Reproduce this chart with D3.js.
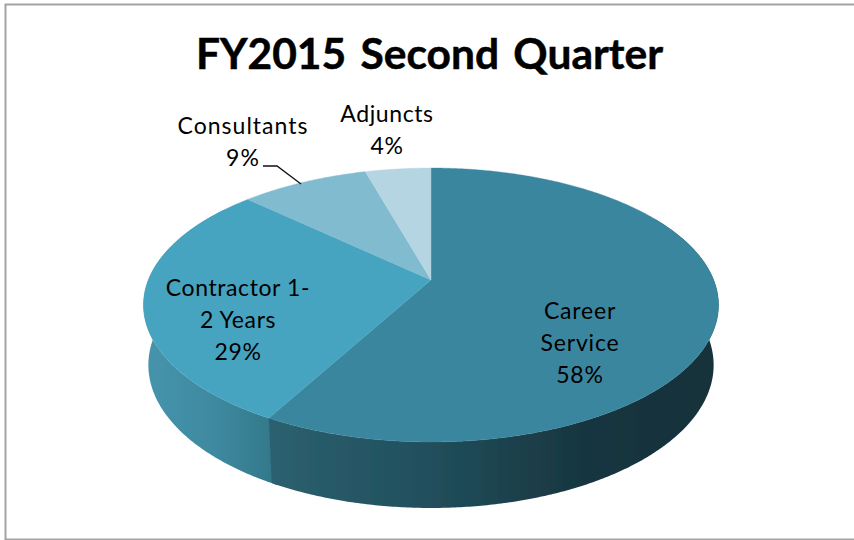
<!DOCTYPE html>
<html>
<head>
<meta charset="utf-8">
<script src="https://cdn.jsdelivr.net/npm/d3@7"></script>
<style>
html,body{margin:0;padding:0;background:#fff;overflow:hidden}
svg{display:block}
text{font-family:Lato,"Noto Sans",sans-serif;fill:#000}
</style>
</head>
<body>
<svg id="c" width="854" height="540"></svg>
<script>
const categories = ["Career Service", "Contractor 1-2 Years", "Consultants", "Adjuncts"];
const values = [58, 29, 8.6, 4.4];
const labelLines = [["Career", "Service", "58%"], ["Contractor 1-", "2 Years", "29%"], ["Consultants", "9%"], ["Adjuncts", "4%"]];
const titleText = "FY2015 Second Quarter";
const topColors = ["#3a869f", "#46a4c0", "#80bbd0", "#b6d5e3"];

const svg = d3.select("#c");
const defs = svg.append("defs");
defs.append("filter").attr("id", "soft").append("feGaussianBlur").attr("stdDeviation", 0.45);
function grad(id, stops, x1, x2) {
  const g = defs.append("linearGradient").attr("id", id).attr("gradientUnits", "userSpaceOnUse")
    .attr("x1", x1).attr("x2", x2).attr("y1", 0).attr("y2", 0);
  stops.forEach(s => g.append("stop").attr("offset", s[0]).attr("stop-color", s[1]));
}
grad("sideCareer", [[0, "#2b606f"], [0.35, "#214f5c"], [0.7, "#183640"], [1, "#15303a"]], 272, 714);
grad("sideContractor", [[0, "#4594ac"], [0.55, "#3e899f"], [1, "#33788b"]], 148, 272);

// border
svg.append("path").attr("stroke", "#a3a3a3").attr("stroke-width", 2).attr("fill", "none")
  .attr("d", d3.line()([[854, 4.5], [5.5, 4.5], [5.5, 539.5], [854, 539.5]]));

// disc -> screen perspective mapping
const k = 0.1825;
const sx = d3.scaleLinear().domain([-1, 1]).range([431 - 282.7, 431 + 282.7]);
const sy = d3.scaleLinear().domain([-1, 1]).range([280 - 132.4, 280 + 132.4]);
function topPt(t) {
  const X = Math.sin(t), Y = -Math.cos(t), w = 1 - k * Y;
  return [sx(X / w), sy(Y / w)];
}
function botPt(t) {
  const p = topPt(t);
  return [431 + (p[0] - 431) * 0.983, 365 + (p[1] - 305) * 1.044];
}
const arcs = d3.pie().sort(null).value(d => d)(values);
const step = Math.PI / 360;
const samples = (a, b) => d3.range(a, b, step).concat([b]);
const line = d3.line();

const pie = svg.append("g").attr("filter", "url(#soft)");
// sides: contractor first, career overlaps the seam
const boundary = arcs[0].endAngle;
const sides = [
  { a: boundary - 0.02, b: Math.PI * 1.7, fill: "url(#sideContractor)" },
  { a: Math.PI / 3, b: boundary, fill: "url(#sideCareer)" }
];
pie.selectAll("path.side").data(sides).join("path").attr("class", "side")
  .attr("fill", d => d.fill)
  .attr("d", d => {
    const s = samples(d.a, d.b);
    return line(s.map(topPt).concat(s.slice().reverse().map(botPt))) + "Z";
  });
// top faces
pie.selectAll("path.face").data(arcs).join("path").attr("class", "face")
  .attr("fill", (d, i) => topColors[i])
  .attr("stroke", (d, i) => topColors[i]).attr("stroke-width", 0.4)
  .attr("d", d => line([[sx(0), sy(0)]].concat(samples(d.startAngle, d.endAngle).map(topPt))) + "Z");

// leader line
svg.append("path").attr("fill", "none").attr("stroke", "#111").attr("stroke-width", 1.3)
  .attr("d", line([[263, 166], [277, 166], [301, 184]]));

// title
svg.append("text").attr("x", 429.5).attr("y", 69).attr("text-anchor", "middle")
  .attr("font-size", 42.5).attr("font-weight", 700).attr("word-spacing", 4)
  .attr("stroke", "#000").attr("stroke-width", 0.5)
  .text(titleText);

// labels
const labelPos = [[580, 319], [238, 296], [243, 134], [387, 122]];
const labelSpacing = [0.8, 0.6, 1.0, 0.6];
labelLines.forEach((ls, i) => {
  ls.forEach((t, j) => {
    svg.append("text").attr("x", labelPos[i][0]).attr("y", labelPos[i][1] + j * 32)
      .attr("text-anchor", "middle").attr("font-size", 23).attr("letter-spacing", labelSpacing[i])
      .text(t);
  });
});
</script>
</body>
</html>
